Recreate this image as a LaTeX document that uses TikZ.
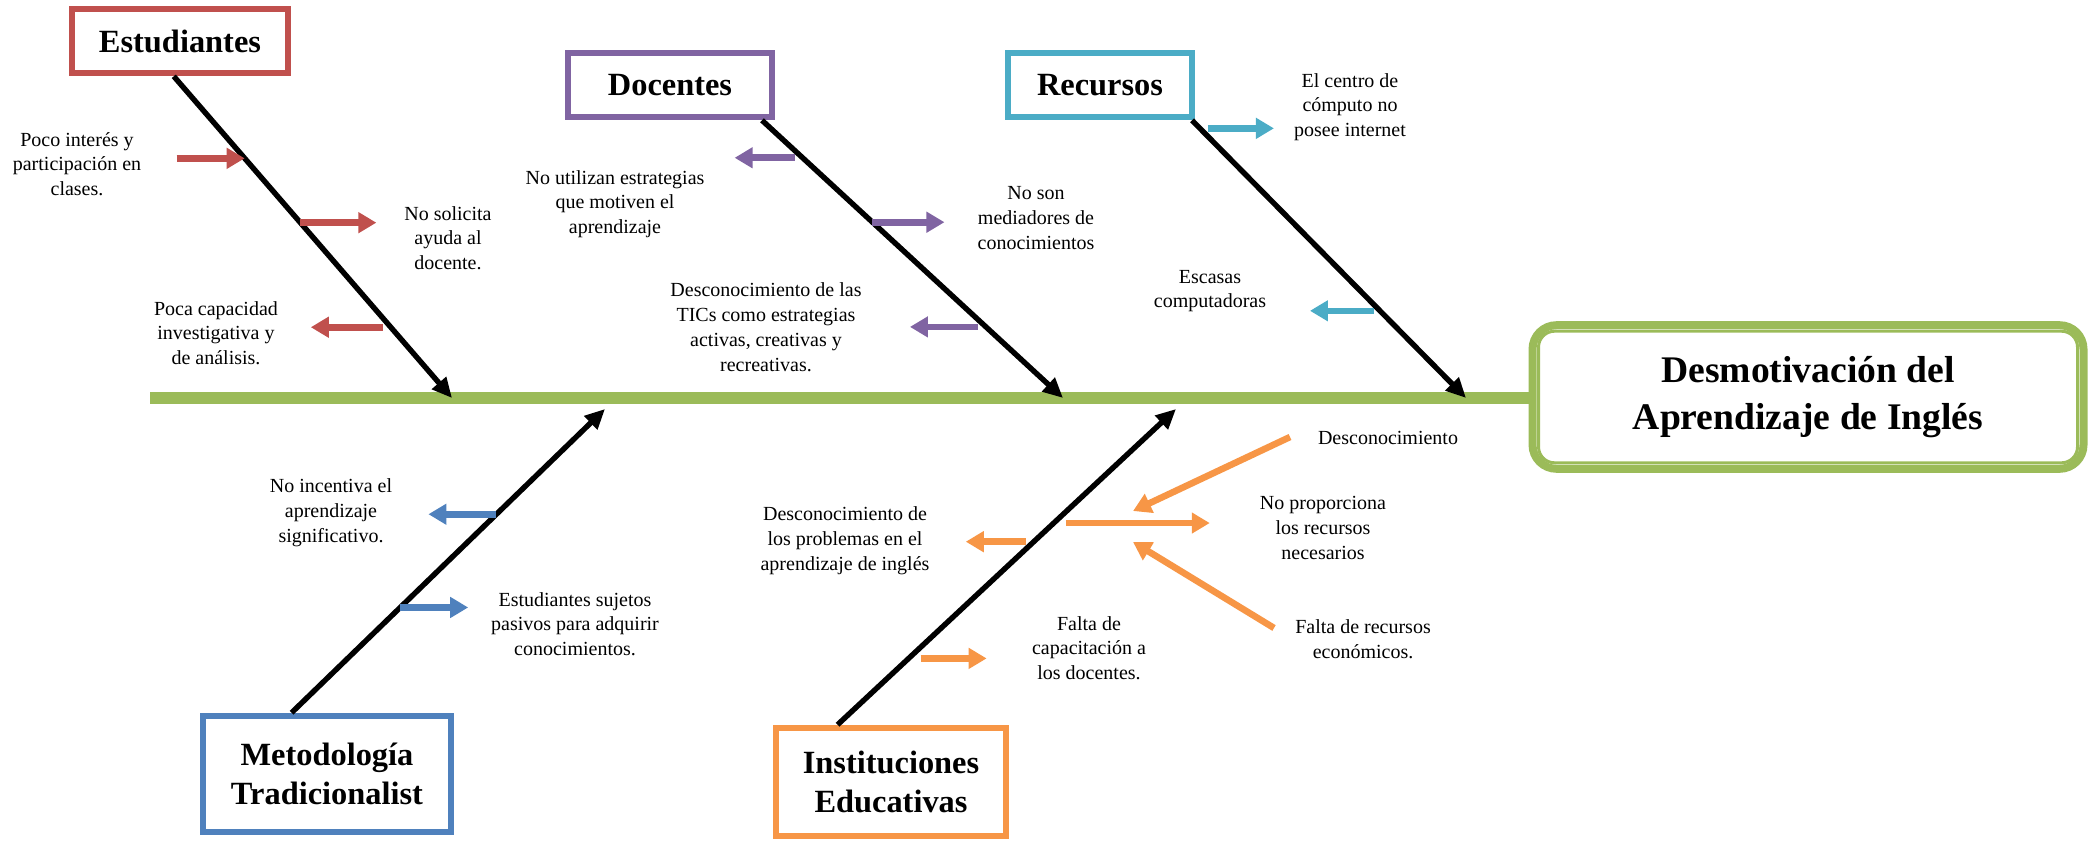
\documentclass[tikz,border=0pt]{standalone}
\usepackage{fontspec}
\setmainfont{Liberation Serif}
\usetikzlibrary{arrows.meta, calc}
\definecolor{color_est}{RGB}{192,80,77}
\definecolor{color_doc}{RGB}{128,100,162}
\definecolor{color_rec}{RGB}{75,172,198}
\definecolor{color_met}{RGB}{79,129,189}
\definecolor{color_ins}{RGB}{247,150,70}
\definecolor{color_esp}{RGB}{155,187,89}

\begin{document}
\begin{tikzpicture}[x=0.5pt, y=-0.5pt,
cause/.style={draw, line width=3.3pt, fill=white, inner sep=0pt, align=center,
  font=\fontsize{16.2}{19.5}\selectfont\bfseries},
bone/.style={line width=2.7pt, -{Triangle[length=10pt,width=9pt]}},
sub/.style={line width=3.3pt, -{Triangle[length=9pt,width=10pt]}},
note/.style={align=center, font=\fontsize{10}{12.4}\selectfont}]
\useasboundingbox (0,0) rectangle (2096,840);
% EFECTO
\node[draw=color_esp, line width=4pt, rounded corners=12pt, minimum width=275.5pt,
  minimum height=71.8pt, align=center, font=\fontsize{18.8}{23.5}\selectfont\bfseries]
  (head) at (1808,397) {Desmotivación del\\Aprendizaje de Inglés};
\draw[color_esp, line width=1.5pt, rounded corners=8pt]
  ($(head.north west)+(10,10)$) rectangle ($(head.south east)+(-10,-10)$);
\coordinate (tail) at (150,398);
\draw[color_esp, line width=6.3pt] (tail) -- (tail -| head.west);
% CAUSAS
\node[cause, draw=color_est, minimum width=108pt, minimum height=32pt] (est) at (180,41) {Estudiantes};
\node[cause, draw=color_doc, minimum width=102pt, minimum height=32pt] (doc) at (670,85) {Docentes};
\node[cause, draw=color_rec, minimum width=92pt, minimum height=32pt] (rec) at (1100,85) {Recursos};
\node[cause, draw=color_met, minimum width=124pt, minimum height=58pt] (met) at (327,774) {Metodología\\Tradicionalist};
\node[cause, draw=color_ins, minimum width=115pt, minimum height=54pt] (ins) at (891,782) {Instituciones\\Educativas};
\coordinate (est_tip) at (452,398);
\coordinate (doc_tip) at (1063,398);
\coordinate (rec_tip) at (1466,398);
\coordinate (met_tip) at (605,409);
\coordinate (ins_tip) at (1176,409);
\draw[bone] (est.-100) -- (est_tip);
\draw[bone] (doc.-21.5) -- (doc_tip);
\draw[bone] (rec.-21) -- (rec_tip);
\draw[bone] (met.120) -- (met_tip);
\draw[bone] (ins.133) -- (ins_tip);
% ESTUDIANTES
\coordinate (est_a) at ($(est.-100)!0.255!(est_tip)$);
\coordinate (est_b) at ($(est.-100)!0.455!(est_tip)$);
\coordinate (est_c) at ($(est.-100)!0.78!(est_tip)$);
\draw[sub, color_est] ([xshift=-34pt]est_a) -- (est_a);
\draw[sub, color_est] (est_b) -- ([xshift=38pt]est_b);
\draw[sub, color_est] ([xshift=-4pt]est_c) -- ([xshift=-40pt]est_c);
\node[note] (est_na) at (77,164) {Poco interés y\\participación en\\clases.};
\node[note] (est_nb) at (448,238) {No solicita\\ayuda al\\docente.};
\node[note] (est_nc) at (216,333) {Poca capacidad\\investigativa y\\de análisis.};
% DOCENTES
\coordinate (doc_a) at ($(doc.-21.5)!0.135!(doc_tip)$);
\coordinate (doc_b) at ($(doc.-21.5)!0.367!(doc_tip)$);
\coordinate (doc_c) at ($(doc.-21.5)!0.744!(doc_tip)$);
\draw[sub, color_doc] ([xshift=-4pt]doc_a) -- ([xshift=-34pt]doc_a);
\draw[sub, color_doc] (doc_b) -- ([xshift=36pt]doc_b);
\draw[sub, color_doc] ([xshift=-4pt]doc_c) -- ([xshift=-38pt]doc_c);
\node[note] (doc_na) at (615,204) {No utilizan estrategias\\que motiven el\\aprendizaje};
\node[note] (doc_nb) at (1036,218) {No son\\mediadores de\\conocimientos};
\node[note] (doc_nc) at (766,327) {Desconocimiento de las\\TICs como estrategias\\activas, creativas y\\recreativas.};
% RECURSOS
\coordinate (rec_a) at ($(rec.-21)!0.029!(rec_tip)$);
\coordinate (rec_b) at ($(rec.-21)!0.686!(rec_tip)$);
\draw[sub, color_rec] ([xshift=4pt]rec_a) -- ([xshift=37pt]rec_a);
\draw[sub, color_rec] ([xshift=-3pt]rec_b) -- ([xshift=-35pt]rec_b);
\node[note] (rec_na) at (1350,107) {El centro de\\cómputo no\\posee internet};
\node[note] (rec_nb) at (1210,291) {Escasas\\computadoras};
% METODOLOGIA
\coordinate (met_a) at ($(met.120)!0.6535!(met_tip)$);
\coordinate (met_b) at ($(met.120)!0.3465!(met_tip)$);
\draw[sub, color_met] (met_a) -- ([xshift=-34pt]met_a);
\draw[sub, color_met] (met_b) -- ([xshift=34pt]met_b);
\node[note] (met_na) at (331,513) {No incentiva el\\aprendizaje\\significativo.};
\node[note] (met_nb) at (575,624) {Estudiantes sujetos\\pasivos para adquirir\\conocimientos.};
% INSTITUCIONES
\coordinate (ins_a) at ($(ins.133)!0.5797!(ins_tip)$);
\coordinate (ins_b) at ($(ins.133)!0.21!(ins_tip)$);
\coordinate (ins_c) at ($(ins.133)!0.6388!(ins_tip)$);
\coordinate (ins_c_end) at ([xshift=78pt]ins_c);
\coordinate (ins_up) at (1290,437);
\coordinate (ins_up_tip) at (1133,511);
\coordinate (ins_dn) at (1274,628);
\coordinate (ins_dn_tip) at (1133,542);
\draw[sub, color_ins] ([xshift=-4pt]ins_a) -- ([xshift=-34pt]ins_a);
\draw[sub, color_ins] ([xshift=6pt]ins_b) -- ([xshift=39pt]ins_b);
\draw[sub, color_ins] ([xshift=6pt]ins_c) -- (ins_c_end);
\draw[sub, color_ins] (ins_up) -- (ins_up_tip);
\draw[sub, color_ins] (ins_dn) -- (ins_dn_tip);
\node[note] (ins_na) at (845,541) {Desconocimiento de\\los problemas en el\\aprendizaje de inglés};
\node[note] (ins_nb) at (1089,648) {Falta de\\capacitación a\\los docentes.};
\node[note] (ins_nc) at (1323,528) {No proporciona\\los recursos\\necesarios};
\node[note] (ins_nd) at (1388,438) {Desconocimiento};
\node[note] (ins_ne) at (1363,639) {Falta de recursos\\económicos.};
\end{tikzpicture}
\end{document}
